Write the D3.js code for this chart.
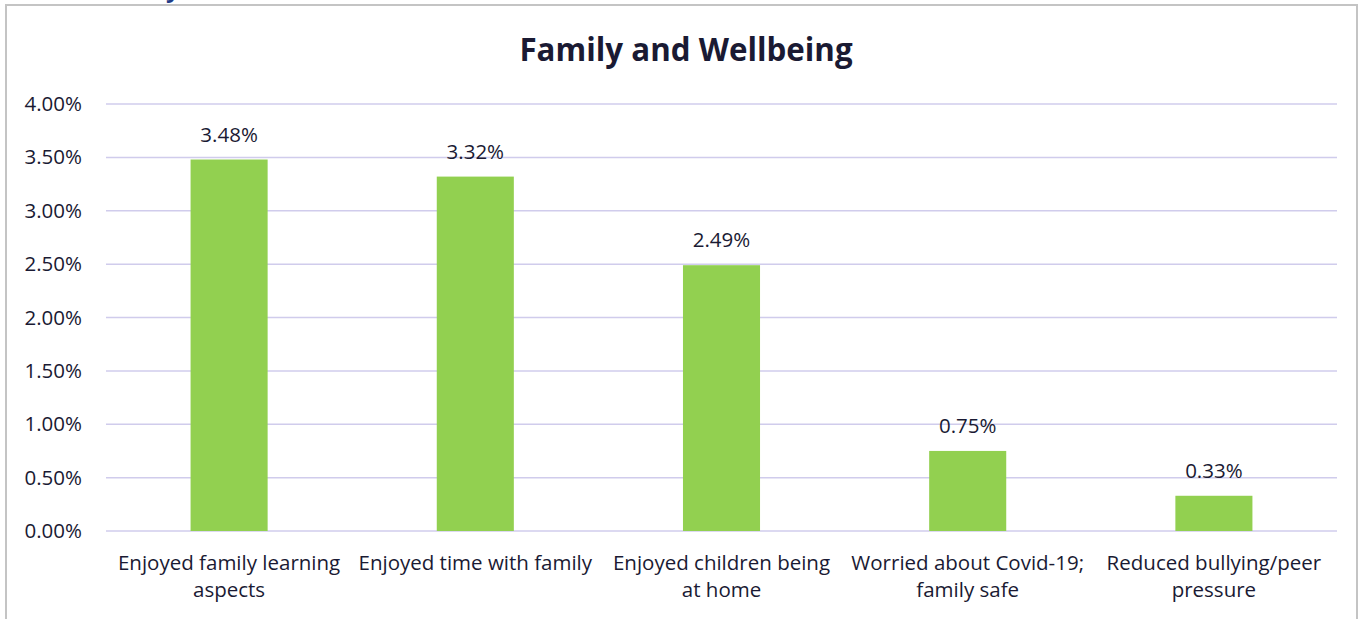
<!DOCTYPE html>
<html>
<head>
<meta charset="utf-8">
<script src="https://cdn.jsdelivr.net/npm/d3@7"></script>
<style>
  body { margin: 0; background: #fff; }
  svg text { font-family: "Open Sans", sans-serif; fill: #1a1a33; }
</style>
</head>
<body>
<svg id="chart"></svg>
<script>
// chart data
const categories = [
  "Enjoyed family learning aspects",
  "Enjoyed time with family",
  "Enjoyed children being at home",
  "Worried about Covid-19; family safe",
  "Reduced bullying/peer pressure"
];
// how each category label wraps onto lines
const categoryLines = [
  ["Enjoyed family learning", "aspects"],
  ["Enjoyed time with family"],
  ["Enjoyed children being", "at home"],
  ["Worried about Covid-19;", "family safe"],
  ["Reduced bullying/peer", "pressure"]
];
const values = [3.48, 3.32, 2.49, 0.75, 0.33];
const yTicks = [0, 0.5, 1, 1.5, 2, 2.5, 3, 3.5, 4];

const width = 1370, height = 619;
const margin = { top: 104, right: 33, bottom: 88, left: 106 };
const fontSize = "20.5px";

const svg = d3.select("#chart")
  .attr("width", width)
  .attr("height", height);

// outer frame (bottom edge runs past the picture)
svg.append("rect")
  .attr("x", 6).attr("y", 5)
  .attr("width", 1351).attr("height", 700)
  .attr("fill", "none")
  .attr("stroke", "#c4c4c4")
  .attr("stroke-width", 2);

// cut-off heading letter above the frame
svg.append("text")
  .attr("x", 166).attr("y", -3)
  .style("font-size", "24px")
  .style("font-weight", "bold")
  .style("fill", "#1f3c88")
  .text("y");

const x = d3.scaleBand()
  .domain(categories)
  .range([margin.left, width - margin.right])
  .paddingInner(0.687)
  .paddingOuter(0.3435);

const y = d3.scaleLinear()
  .domain([0, 4])
  .range([height - margin.bottom, margin.top]);

// title
svg.append("text")
  .attr("x", 686).attr("y", 61)
  .attr("text-anchor", "middle")
  .style("font-size", "31.3px")
  .style("font-weight", "bold")
  .text("Family and Wellbeing");

// gridlines
svg.append("g")
  .selectAll("line")
  .data(yTicks)
  .join("line")
  .attr("x1", margin.left)
  .attr("x2", width - margin.right)
  .attr("y1", d => y(d))
  .attr("y2", d => y(d))
  .attr("stroke", "#d0ccec")
  .attr("stroke-width", 1.5);

// y tick labels
svg.append("g")
  .selectAll("text")
  .data(yTicks)
  .join("text")
  .attr("x", 82)
  .attr("y", d => y(d) + 7)
  .attr("text-anchor", "end")
  .style("font-size", fontSize)
  .text(d => d.toFixed(2) + "%");

// bars
svg.append("g")
  .selectAll("rect")
  .data(values)
  .join("rect")
  .attr("x", (d, i) => x(categories[i]))
  .attr("width", x.bandwidth())
  .attr("y", d => y(d))
  .attr("height", d => y(0) - y(d))
  .attr("fill", "#92d050");

// value labels
svg.append("g")
  .selectAll("text")
  .data(values)
  .join("text")
  .attr("x", (d, i) => x(categories[i]) + x.bandwidth() / 2)
  .attr("y", d => y(d) - 18)
  .attr("text-anchor", "middle")
  .style("font-size", fontSize)
  .text(d => d.toFixed(2) + "%");

// category labels
const cat = svg.append("g")
  .selectAll("text")
  .data(categories)
  .join("text")
  .attr("text-anchor", "middle")
  .style("font-size", fontSize);

cat.selectAll("tspan")
  .data((d, i) => categoryLines[i].map(t => ({ t, c: d })))
  .join("tspan")
  .attr("x", d => x(d.c) + x.bandwidth() / 2)
  .attr("y", (d, j) => 570 + j * 27)
  .text(d => d.t);
</script>
</body>
</html>
